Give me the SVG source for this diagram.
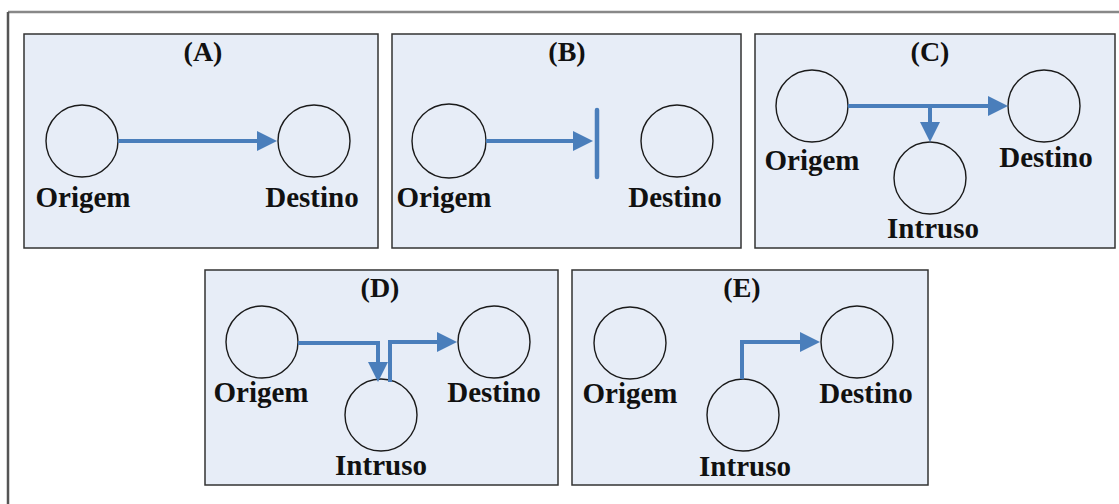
<svg xmlns="http://www.w3.org/2000/svg" width="1119" height="504" viewBox="0 0 1119 504">
  <style>
    .panel { fill: #e7edf7; stroke: #333; stroke-width: 1.5; }
    .node { fill: none; stroke: #1a1a1a; stroke-width: 1.4; }
    .lbl { font-family: "Liberation Serif", "Times New Roman", serif; font-weight: bold; font-size: 29px; fill: #111; text-anchor: middle; }
    .ttl { font-family: "Liberation Serif", "Times New Roman", serif; font-weight: bold; font-size: 28px; fill: #111; text-anchor: middle; }
    .conn { fill: none; stroke: #4a7ebb; stroke-width: 4; marker-end: url(#ah); }
    .bar { stroke: #4a7ebb; stroke-width: 4.5; stroke-linecap: round; }
  </style>
  <defs>
    <marker id="ah" markerUnits="userSpaceOnUse" viewBox="0 0 20 20" refX="1" refY="10" markerWidth="20" markerHeight="20" orient="auto">
      <path d="M0,0 L20,10 L0,20 z" fill="#4a7ebb"/>
    </marker>
  </defs>
  <rect width="1119" height="504" fill="#fff"/>
  <g id="frame">
    <line x1="8" y1="12" x2="1119" y2="12" stroke="#888" stroke-width="2.5"/>
    <line x1="8" y1="12" x2="8" y2="504" stroke="#555" stroke-width="2.5"/>
  </g>

  <g id="panel-A">
    <rect class="panel" x="24" y="34" width="354" height="214"/>
    <text class="ttl" x="203" y="61">(A)</text>
  </g>
  <g id="panel-B">
    <rect class="panel" x="392" y="34" width="349" height="214"/>
    <text class="ttl" x="567" y="61">(B)</text>
  </g>
  <g id="panel-C">
    <rect class="panel" x="755" y="34" width="360" height="214"/>
    <text class="ttl" x="930" y="61">(C)</text>
  </g>
  <g id="panel-D">
    <rect class="panel" x="205" y="270" width="353" height="215"/>
    <text class="ttl" x="380" y="297">(D)</text>
  </g>
  <g id="panel-E">
    <rect class="panel" x="572" y="270" width="356" height="215"/>
    <text class="ttl" x="742" y="297">(E)</text>
  </g>

  <g id="A-origem"><circle class="node" cx="82" cy="141" r="36"/><text class="lbl" x="83" y="207">Origem</text></g>
  <g id="A-destino"><circle class="node" cx="314" cy="141" r="36"/><text class="lbl" x="312" y="207">Destino</text></g>

  <g id="B-origem"><circle class="node" cx="449" cy="141" r="37"/><text class="lbl" x="444" y="207">Origem</text></g>
  <g id="B-destino"><circle class="node" cx="677" cy="141" r="36"/><text class="lbl" x="675" y="207">Destino</text></g>

  <g id="C-origem"><circle class="node" cx="812" cy="106" r="36"/><text class="lbl" x="812" y="170">Origem</text></g>
  <g id="C-destino"><circle class="node" cx="1044" cy="106" r="36"/><text class="lbl" x="1046" y="167">Destino</text></g>
  <g id="C-intruso"><circle class="node" cx="930" cy="178" r="36"/><text class="lbl" x="933" y="238">Intruso</text></g>

  <g id="D-origem"><circle class="node" cx="262" cy="342" r="36"/><text class="lbl" x="261" y="402">Origem</text></g>
  <g id="D-destino"><circle class="node" cx="494" cy="342" r="36"/><text class="lbl" x="494" y="402">Destino</text></g>
  <g id="D-intruso"><circle class="node" cx="381" cy="415" r="36"/><text class="lbl" x="381" y="475">Intruso</text></g>

  <g id="E-origem"><circle class="node" cx="630" cy="343" r="36"/><text class="lbl" x="630" y="403">Origem</text></g>
  <g id="E-destino"><circle class="node" cx="857" cy="342" r="36"/><text class="lbl" x="866" y="403">Destino</text></g>
  <g id="E-intruso"><circle class="node" cx="743" cy="415" r="36"/><text class="lbl" x="745" y="476">Intruso</text></g>

  <g id="connectors">
    <path class="conn" d="M118,141 H258"/>
    <path class="conn" d="M486,141 H574"/>
    <line class="bar" x1="597" y1="110" x2="597" y2="177"/>
    <path class="conn" d="M848,106 H989"/>
    <path class="conn" d="M930,106 V123"/>
    <path class="conn" d="M298,343 H378 V363"/>
    <path class="conn" d="M390,382 V342 H438"/>
    <path class="conn" d="M742,379 V342 H801"/>
  </g>
</svg>
